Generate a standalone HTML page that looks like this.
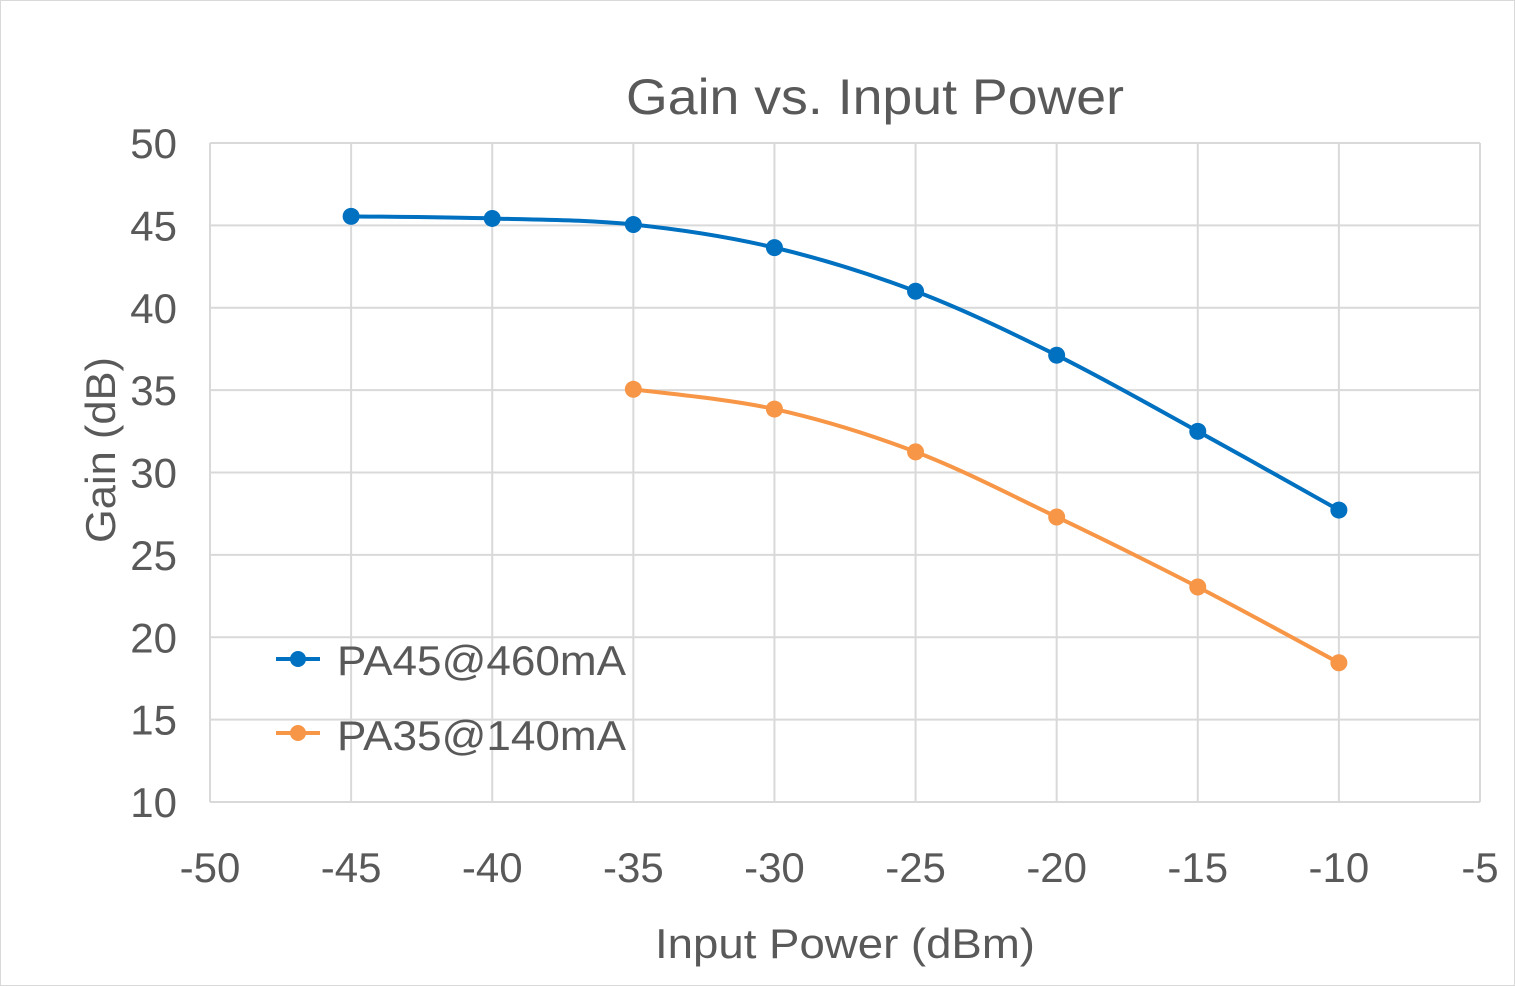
<!DOCTYPE html>
<html><head><meta charset="utf-8"><style>
html,body{margin:0;padding:0;background:#fff}
svg{display:block;font-family:"Liberation Sans",sans-serif}
</style></head><body>
<svg id="chart" width="1515" height="986" viewBox="0 0 1515 986">
<rect x="0.5" y="0.5" width="1514" height="985" fill="#fff" stroke="#d9d9d9"/>
<text x="626" y="114" font-size="50" fill="#595959" textLength="498" lengthAdjust="spacingAndGlyphs">Gain vs. Input Power</text>
<g id="grid"></g>
<g id="series"></g>
<text transform="translate(115,543) rotate(-90)" font-size="42" fill="#595959" textLength="186" lengthAdjust="spacingAndGlyphs">Gain (dB)</text>
<text x="655" y="958" font-size="42" fill="#595959" textLength="380" lengthAdjust="spacingAndGlyphs">Input Power (dBm)</text>
<g>
<line x1="276" y1="659" x2="320" y2="659" stroke="#0070c0" stroke-width="4"/>
<circle cx="298" cy="659" r="8" fill="#0070c0"/>
<text x="337" y="675" font-size="42" fill="#595959" textLength="289" lengthAdjust="spacingAndGlyphs">PA45@460mA</text>
<line x1="276" y1="733" x2="320" y2="733" stroke="#f79646" stroke-width="4"/>
<circle cx="298" cy="733" r="8" fill="#f79646"/>
<text x="337" y="750" font-size="42" fill="#595959" textLength="289" lengthAdjust="spacingAndGlyphs">PA35@140mA</text>
</g>
</svg>
<script>
const xTicks = [-50,-45,-40,-35,-30,-25,-20,-15,-10,-5];
const yTicks = [10,15,20,25,30,35,40,45,50];
const pa45X = [-45,-40,-35,-30,-25,-20,-15,-10];
const pa45Y = [45.55,45.42,45.05,43.65,41.0,37.12,32.5,27.72];
const pa35X = [-35,-30,-25,-20,-15,-10];
const pa35Y = [35.05,33.85,31.25,27.3,23.05,18.45];

const X0=210, X1=1480, Y0=802, Y1=143;
const xMin=-50, xMax=-5, yMin=10, yMax=50;
function sx(v){return X0+(v-xMin)/(xMax-xMin)*(X1-X0);}
function sy(v){return Y0-(v-yMin)/(yMax-yMin)*(Y0-Y1);}
const NS="http://www.w3.org/2000/svg";
const grid=document.getElementById('grid');
const ser=document.getElementById('series');
function mk(tag,attrs,parent){const e=document.createElementNS(NS,tag);for(const k in attrs)e.setAttribute(k,attrs[k]);parent.appendChild(e);return e;}

xTicks.forEach(v=>{
  const l=mk('line',{x1:sx(v),x2:sx(v),y1:Y1,y2:Y0,stroke:'#d9d9d9','stroke-width':2},grid);
  
  
  const t=mk('text',{x:sx(v),y:882,'text-anchor':'middle','font-size':42,fill:'#595959'},grid);
  t.textContent=v;
  
  
});
yTicks.forEach(v=>{
  const l=mk('line',{x1:X0,x2:X1,y1:sy(v),y2:sy(v),stroke:'#d9d9d9','stroke-width':2},grid);
  
  
  const t=mk('text',{x:177,y:sy(v)+15,'text-anchor':'end','font-size':42,fill:'#595959'},grid);
  t.textContent=v;
  
  
});

function smoothPath(pts){
  let d='M'+pts[0][0]+','+pts[0][1];
  for(let i=0;i<pts.length-1;i++){
    const p0=pts[Math.max(0,i-1)],p1=pts[i],p2=pts[i+1],p3=pts[Math.min(pts.length-1,i+2)];
    const t=1/6;
    const c1=[p1[0]+(p2[0]-p0[0])*t,p1[1]+(p2[1]-p0[1])*t];
    const c2=[p2[0]-(p3[0]-p1[0])*t,p2[1]-(p3[1]-p1[1])*t];
    d+=' C'+c1+' '+c2+' '+p2;
  }
  return d;
}
function drawSeries(xs,ys,color,name){
  const pts=xs.map((x,i)=>[sx(x),sy(ys[i])]);
  const p=mk('path',{d:smoothPath(pts),fill:'none',stroke:color,'stroke-width':4},ser);
  
  
  pts.forEach(pt=>{
    const c=mk('circle',{cx:pt[0],cy:pt[1],r:8.5,fill:color},ser);
    
    
  });
}
drawSeries(pa45X,pa45Y,'#0070c0','pa45');
drawSeries(pa35X,pa35Y,'#f79646','pa35');
</script>
</body></html>
